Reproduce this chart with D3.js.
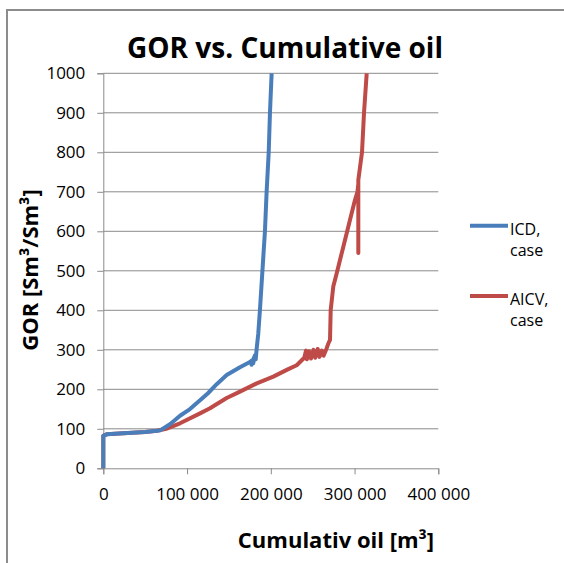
<!DOCTYPE html>
<html>
<head>
<meta charset="utf-8">
<script src="https://cdn.jsdelivr.net/npm/d3@7"></script>
<style>
  body { margin: 0; background: #fff; }
  text { font-family: "Open Sans", sans-serif; }
</style>
</head>
<body>
<div id="vis"></div>
<script>
// ICD, case  (cumulative oil m3, GOR)
var icdOil = [0, 0, 4000, 24000, 50000, 64000, 68000, 80000, 91600, 103500, 115500, 125000, 135400, 147300, 163200, 175000,
              178000, 177000, 180000, 179000, 181000, 182000, 183000, 185000, 187000, 190000, 193000, 195000, 197500, 199000, 201000];
var icdGor = [0, 82, 86, 89, 92, 95, 96, 112, 133, 150, 172, 190, 213, 236, 256, 269,
              274, 262, 281, 266, 286, 276, 300, 340, 400, 500, 600, 700, 800, 900, 1000];

// AICV, case
var aicvOil = [0, 0, 4000, 24000, 50000, 64000, 75000, 91600, 115500, 127400, 147300, 163200, 183200, 203000, 220900, 230900, 240000,
               242000, 243000, 246000, 248000, 251000, 253000, 256000, 258000, 261000, 263000, 266000, 268700, 270700,
               271500, 274600, 278700, 286600, 294600, 300500, 303500, 304500, 304500, 304500, 308900, 311300, 314500];
var aicvGor = [0, 82, 86, 89, 92, 95, 100, 114, 139, 152, 178, 194, 215, 232, 251, 261, 280,
               298, 276, 296, 278, 300, 280, 302, 282, 298, 285, 300, 316, 325,
               400, 460, 494, 561, 629, 679, 700, 720, 545, 730, 800, 900, 1000];

var seriesNames = ["ICD,", "AICV,"];
var seriesColors = ["#4a7ebb", "#be4b48"];
var xTicks = [0, 100000, 200000, 300000, 400000];
var yTicks = [0, 100, 200, 300, 400, 500, 600, 700, 800, 900, 1000];

var w = 564, h = 563;
var plotLeft = 103.3, plotRight = 438.3, plotTop = 73.3, plotBottom = 468.3;

var svg = d3.select("#vis").append("svg")
    .attr("width", w).attr("height", h);

// outer chart border
svg.append("rect")
    .attr("x", 7).attr("y", 10)
    .attr("width", 600).attr("height", 600)
    .attr("fill", "none").attr("stroke", "#8c8c8c").attr("stroke-width", 2);

var x = d3.scaleLinear().domain([0, 400000]).range([plotLeft, plotRight]);
var y = d3.scaleLinear().domain([0, 1000]).range([plotBottom, plotTop]);

var loc = d3.formatLocale({ decimal: ",", thousands: " ", grouping: [3], currency: ["", ""] });
var fmt = loc.format(",");

// gridlines
svg.append("g").selectAll("line")
    .data(yTicks.filter(d => d > 0))
    .enter().append("line")
    .attr("x1", plotLeft).attr("x2", plotRight)
    .attr("y1", d => y(d)).attr("y2", d => y(d))
    .attr("stroke", "#8a8a8a").attr("stroke-width", 1);

// y axis
var yAxis = svg.append("g")
    .attr("transform", `translate(${plotLeft},0)`)
    .call(d3.axisLeft(y).tickValues(yTicks).tickFormat(d3.format("d")).tickSize(6).tickPadding(12));
// x axis
var xAxis = svg.append("g")
    .attr("transform", `translate(0,${plotBottom})`)
    .call(d3.axisBottom(x).tickValues(xTicks).tickFormat(fmt).tickSize(6).tickPadding(14));

[xAxis, yAxis].forEach(function (g) {
    g.select(".domain").attr("stroke", "#8a8a8a");
    g.selectAll(".tick line").attr("stroke", "#8a8a8a");
    g.selectAll(".tick text")
        .attr("fill", "#000")
        .style("font-family", "Open Sans")
        .style("font-size", "17px");
});

// lines
var line = d3.line().x(d => x(d[0])).y(d => y(d[1]));
var icd = icdOil.map((d, i) => [d, icdGor[i]]);
var aicv = aicvOil.map((d, i) => [d, aicvGor[i]]);

svg.append("path").datum(aicv)
    .attr("d", line).attr("fill", "none")
    .attr("stroke", seriesColors[1]).attr("stroke-width", 4)
    .attr("stroke-linejoin", "round");
svg.append("path").datum(icd)
    .attr("d", line).attr("fill", "none")
    .attr("stroke", seriesColors[0]).attr("stroke-width", 4)
    .attr("stroke-linejoin", "round");

// title
svg.append("text")
    .attr("x", 285).attr("y", 58)
    .attr("text-anchor", "middle")
    .style("font-size", "28px").style("font-weight", "bold")
    .text("GOR vs. Cumulative oil");

// axis titles
svg.append("text")
    .attr("x", 336).attr("y", 548)
    .attr("text-anchor", "middle")
    .style("font-size", "22px").style("font-weight", "bold")
    .text("Cumulativ oil [m\u00b3]");

svg.append("text")
    .attr("transform", "translate(38,270) rotate(-90)")
    .attr("text-anchor", "middle")
    .style("font-size", "22px").style("font-weight", "bold")
    .text("GOR [Sm\u00b3/Sm\u00b3]");

// legend
var legY = [225.7, 296];
var leg = svg.append("g").selectAll("g")
    .data(seriesNames).enter().append("g")
    .attr("transform", (d, i) => `translate(0,${legY[i]})`);
leg.append("line")
    .attr("x1", 470).attr("x2", 508)
    .attr("y1", 0).attr("y2", 0)
    .attr("stroke", (d, i) => seriesColors[i]).attr("stroke-width", 4);
leg.append("text")
    .attr("x", 510).attr("y", 9)
    .style("font-size", "16px")
    .text(d => d);
leg.append("text")
    .attr("x", 510).attr("y", 30)
    .style("font-size", "16px")
    .text("case");
</script>
</body>
</html>
